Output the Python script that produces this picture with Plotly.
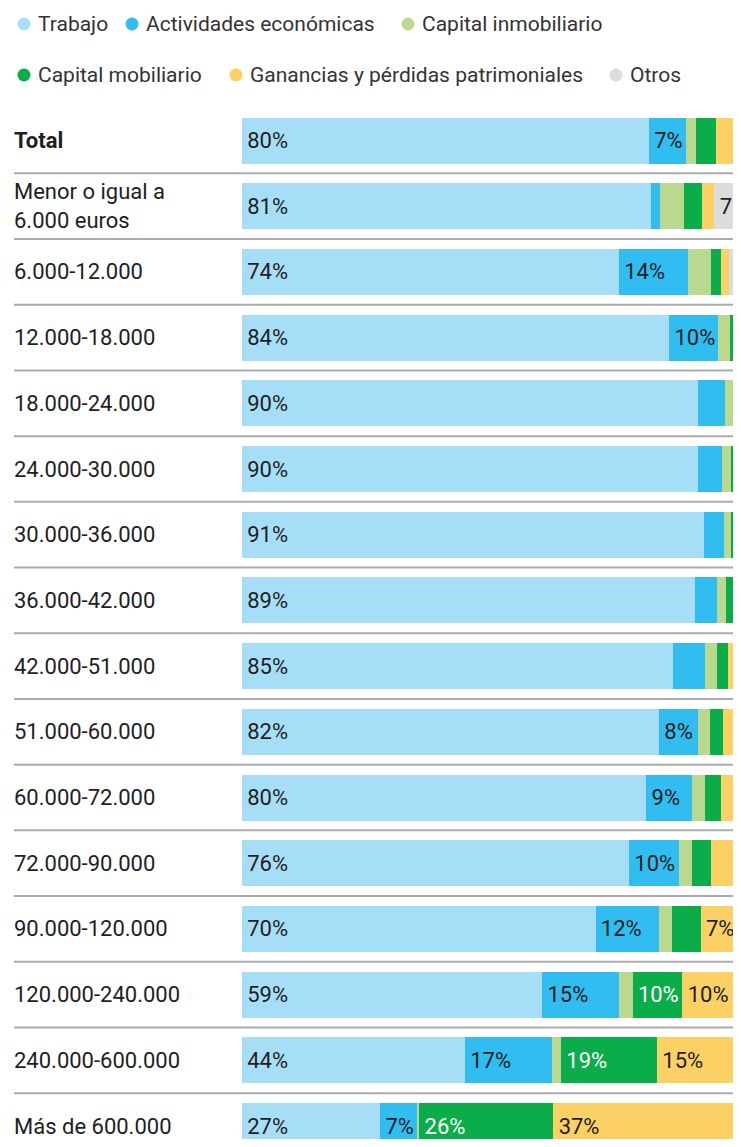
import plotly.graph_objects as go

categories = ["Total", "Menor o igual a<br>6.000 euros", "6.000-12.000", "12.000-18.000",
              "18.000-24.000", "24.000-30.000", "30.000-36.000", "36.000-42.000",
              "42.000-51.000", "51.000-60.000", "60.000-72.000", "72.000-90.000",
              "90.000-120.000", "120.000-240.000", "240.000-600.000", "Más de 600.000"]

trabajo = [80.1, 80.6, 74.2, 84.1, 89.8, 89.8, 90.9, 89.2, 84.8, 82.1, 79.6, 76.2, 69.6, 59.1, 43.9, 27.2]
actividades = [7.3, 1.6, 13.6, 9.6, 5.3, 4.7, 3.9, 4.3, 6.3, 7.6, 8.9, 9.8, 12.4, 15.2, 17.1, 7.3]
capital_inmobiliario = [2.0, 4.9, 4.6, 2.4, 1.6, 1.8, 1.4, 1.8, 2.4, 2.4, 2.6, 2.6, 2.6, 2.6, 1.8, 0.4]
capital_mobiliario = [3.9, 3.5, 1.9, 1.0, 0.8, 1.0, 1.0, 1.4, 2.2, 2.6, 3.1, 3.7, 5.7, 9.8, 18.9, 26.4]
ganancias = [4.3, 2.4, 1.6, 0.7, 0.8, 1.0, 1.0, 1.4, 2.2, 3.3, 3.7, 5.1, 6.9, 10.4, 15.4, 36.8]
otros = [2.4, 7.0, 4.1, 2.2, 1.7, 1.7, 1.8, 1.9, 2.1, 2.0, 2.1, 2.6, 2.8, 2.9, 2.9, 1.9]

series_names = ["Trabajo", "Actividades económicas", "Capital inmobiliario",
                "Capital mobiliario", "Ganancias y pérdidas patrimoniales", "Otros"]
series_values = [trabajo, actividades, capital_inmobiliario, capital_mobiliario, ganancias, otros]
colors = ["#a7def7", "#31bdf0", "#bbd98e", "#0aad4a", "#fbd064", "#dcdcde"]
text_colors = ["#1e1e1e", "#1e1e1e", "#1e1e1e", "#ffffff", "#1e1e1e", "#1e1e1e"]

FONT = "Roboto"
# page body adds an 8px margin; the visible page area ends at x=733
OX, OY = 8, 8
W, H = 733 - OX, 1147 - 2 * OY
ML, MR, MT, MB = 242 - OX, 0, 100 - OY, 0
PW, PH = W - ML - MR, H - MT - MB
ROW_PX = 65.7      # page pixels per category row
PCT_PX = 5.08      # page pixels per percentage point


def px_x(px):
    return (px - OX - ML) / PW


def px_y(py):
    return (H - MB - (py - OY)) / PH


y_top = -40.5 / ROW_PX
y_bottom = y_top + PH / ROW_PX
x_max = PW / PCT_PX

fig = go.Figure()
for name, vals, col, tcol in zip(series_names, series_values, colors, text_colors):
    fig.add_trace(go.Bar(
        y=list(range(len(categories))), x=vals, orientation="h", name=name,
        marker=dict(color=col, line=dict(width=0)),
        text=[f"\u200a{round(v)}%" if v >= 6.5 else "" for v in vals],
        textposition="inside", insidetextanchor="start", textangle=0,
        constraintext="none",
        insidetextfont=dict(family=FONT, size=22, color=tcol),
        showlegend=False, hoverinfo="skip",
    ))

# category labels
for i, c in enumerate(categories):
    txt = f"<b>{c}</b>" if c == "Total" else c
    fig.add_annotation(x=px_x(12), xref="paper", y=i, yref="y", text=txt,
                       showarrow=False, xanchor="left", yanchor="middle", align="left",
                       font=dict(family=FONT, size=22, color="#1e1e1e"))

# separators
for i in range(len(categories) - 1):
    fig.add_shape(type="line", xref="paper", yref="y", x0=px_x(14), x1=1,
                  y0=i + 0.5, y1=i + 0.5, line=dict(color="#ababab", width=2))

# legend
legend_pos = [(24, 24), (132, 24), (408, 24), (24, 75), (236, 75), (616, 75)]
for (cx, cy), name, col in zip(legend_pos, series_names, colors):
    r = 6.5
    fig.add_shape(type="circle", xref="paper", yref="paper",
                  x0=px_x(cx - r), x1=px_x(cx + r), y0=px_y(cy + r), y1=px_y(cy - r),
                  fillcolor=col, line=dict(width=0))
    fig.add_annotation(x=px_x(cx + 12), xref="paper", y=px_y(cy), yref="paper",
                       text=name, showarrow=False, xanchor="left", yanchor="middle",
                       font=dict(family=FONT, size=21, color="#333333"))

fig.update_layout(
    width=W, height=H, barmode="stack", bargap=0.3,
    margin=dict(l=ML, r=MR, t=MT, b=MB),
    paper_bgcolor="white", plot_bgcolor="white",
    xaxis=dict(range=[0, x_max], visible=False, fixedrange=True),
    yaxis=dict(range=[y_bottom, y_top], visible=False, fixedrange=True),
    font=dict(family=FONT),
)

fig.write_html("out.html")
